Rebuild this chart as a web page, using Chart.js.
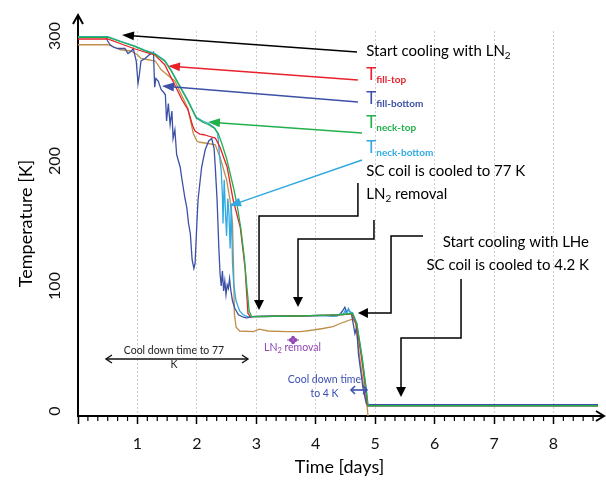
<!DOCTYPE html>
<html>
<head>
<meta charset="utf-8">
<script src="https://cdn.jsdelivr.net/npm/chart.js@4.4.1/dist/chart.umd.min.js"></script>
<style>
  html, body { margin: 0; padding: 0; background: #fff; }
</style>
</head>
<body>
<canvas id="cooldown" width="606" height="483"></canvas>
<script>
// cooldown curves: temperature [K] vs time [days]

var xTicks = [0, 1, 2, 3, 4, 5, 6, 7, 8];
var yTicks = [0, 100, 200, 300];

// [day, K]
var neckTop = [[0,299],[0.5,299],[0.73,295.2],[0.95,291.7],[1.12,288.3],[1.29,285.6],[1.46,279.8],[1.57,271.8],
  [1.68,262.4],[1.85,247.8],[1.99,234.4],[2.1,231],[2.2,229],[2.3,226],[2.36,222],[2.42,214],[2.5,202],[2.56,190],
  [2.62,178],[2.68,164],[2.74,146],[2.8,122],[2.84,100],[2.88,80],[2.92,75.5],[3.3,75.8],[3.7,76],[4.1,76.5],
  [4.4,77],[4.55,77.8],[4.62,78],[4.69,70],[4.78,43],[4.85,17],[4.88,4.2],[8.75,4.2]];

var fillTop = [[0,297.6],[0.5,297.6],[0.73,293.6],[0.95,289.8],[1.12,287.2],[1.29,285],[1.46,277],[1.57,266.4],
  [1.68,255.8],[1.75,249],[1.85,241],[1.93,228],[1.97,224],[2.0,223],[2.05,221.5],[2.12,221],[2.19,220],[2.31,218.4],
  [2.39,211],[2.51,195],[2.61,169],[2.73,147],[2.81,115],[2.86,78],[2.9,75.5],[3.3,75.8],[3.7,76],[4.1,76.5],
  [4.4,77],[4.55,77.5],[4.61,77.5],[4.68,70],[4.77,43],[4.84,17],[4.87,4.2],[8.75,4.2]];

var neckBottom = [[0,299.5],[0.5,299.5],[0.73,295.6],[0.95,292.2],[1.12,288.8],[1.29,286.2],[1.46,280.5],[1.57,272.5],
  [1.68,263],[1.85,248.5],[1.99,235],[2.1,232],[2.2,230],[2.3,226.5],[2.35,222],[2.38,205],[2.41,192],[2.43,172],
  [2.44,150],[2.46,185],[2.48,160],[2.5,140],[2.52,170],[2.54,158],[2.56,130],[2.58,166],[2.6,118],[2.62,102],
  [2.66,88],[2.72,80],[2.78,77],[2.85,75.5],[3.3,75.8],[3.7,76],[4.1,76.5],[4.36,76],[4.42,78],[4.46,77],[4.49,80],
  [4.52,78],[4.55,82],[4.58,79],[4.62,78.5],[4.69,70],[4.78,43],[4.85,17],[4.88,4.2],[8.75,4.2]];

var fillBottom = [[0,299],[0.47,299],[0.5,296],[0.54,293],[0.6,291],[0.67,290],[0.79,290],[0.84,286],[0.9,288],
  [0.93,290],[0.98,280],[1.01,262],[1.03,268],[1.06,280],[1.13,282],[1.2,285],[1.27,287],[1.29,259],[1.31,266],
  [1.35,264],[1.4,257],[1.44,255],[1.47,253],[1.49,232],[1.52,246],[1.55,229],[1.58,240],[1.6,218],[1.63,225],
  [1.66,205],[1.72,195],[1.75,185],[1.77,179],[1.8,170],[1.83,163],[1.86,150],[1.89,142],[1.92,121],[1.95,114],
  [1.97,118],[2.0,150],[2.02,169],[2.08,195],[2.14,209],[2.2,216],[2.25,218],[2.29,210],[2.31,195],[2.34,169],
  [2.37,130],[2.39,110],[2.41,100],[2.43,112],[2.45,96],[2.47,104],[2.49,93],[2.51,101],[2.53,98],[2.55,106],
  [2.57,97],[2.6,88],[2.64,82],[2.7,77],[2.78,75],[2.84,74.5],[2.95,75.5],[3.3,75.8],[3.7,76],[4.1,76.5],[4.3,76],
  [4.4,77],[4.45,80],[4.49,83],[4.52,79],[4.55,81],[4.6,78],[4.63,70],[4.66,62],[4.69,67],[4.72,45],[4.8,17],
  [4.85,6],[4.87,5],[8.75,5]];

// brown trace, not named in the figure
var brownTrace = [[0,293],[0.5,293],[0.56,292],[0.72,289],[0.89,288],[1.0,285],[1.06,282],[1.18,281],[1.3,280],
  [1.4,273],[1.5,269],[1.63,264],[1.75,252],[1.85,242],[1.94,222],[2.0,216],[2.05,215],[2.19,214],[2.31,213],
  [2.39,203],[2.5,185],[2.56,168],[2.6,150],[2.62,110],[2.63,78],[2.66,67],[2.72,64],[2.95,63.5],[3.05,65.5],
  [3.2,64],[3.5,63.5],[3.75,63.5],[3.96,64.8],[4.12,66],[4.29,67.5],[4.41,70],[4.5,71.5],[4.58,73],[4.63,73.5],
  [4.67,70],[4.72,50],[4.8,22],[4.86,6],[4.88,-4]];

var FONT = 'Lato, "Open Sans", sans-serif';
Chart.defaults.font.family = FONT;

// first dataset ends up on top
var series = [
  { label: 'T neck-top', pts: neckTop, color: '#22b04b' },
  { label: 'T fill-top', pts: fillTop, color: '#e8212b' },
  { label: 'T neck-bottom', pts: neckBottom, color: '#31a9e1' },
  { label: 'T fill-bottom', pts: fillBottom, color: '#3b50a6' },
  { label: 'T other', pts: brownTrace, color: '#bf8f4a' }
];

var datasets = series.map(function (s) {
  return {
    label: s.label,
    data: s.pts.map(function (p) { return { x: p[0], y: p[1] }; }),
    borderColor: s.color,
    borderWidth: 1.3,
    pointRadius: 0,
    tension: 0,
    fill: false
  };
});

// everything drawn on top: axis arrows, y labels, minor ticks, annotations
var annotations = {
  id: 'annotations',
  afterDraw: function (chart) {
    var ctx = chart.ctx, xs = chart.scales.x, ys = chart.scales.y, area = chart.chartArea;
    function X(d) { return xs.getPixelForValue(d); }
    function Y(k) { return ys.getPixelForValue(k); }

    function head(x1, y1, x2, y2, len, half, color) {
      var a = Math.atan2(y2 - y1, x2 - x1), c = Math.cos(a), s = Math.sin(a);
      ctx.beginPath();
      ctx.moveTo(x2, y2);
      ctx.lineTo(x2 - len * c + half * s, y2 - len * s - half * c);
      ctx.lineTo(x2 - len * c - half * s, y2 - len * s + half * c);
      ctx.closePath();
      ctx.fillStyle = color;
      ctx.fill();
    }
    function arrow(pts, color, len, half) {
      var p = pts.map(function (q) { return [X(q[0]), Y(q[1])]; });
      var n = p.length, a = p[n - 2], b = p[n - 1];
      var L = Math.hypot(b[0] - a[0], b[1] - a[1]);
      var ex = b[0] - (b[0] - a[0]) / L * len * 0.8, ey = b[1] - (b[1] - a[1]) / L * len * 0.8;
      ctx.strokeStyle = color; ctx.lineWidth = 1.5;
      ctx.beginPath();
      ctx.moveTo(p[0][0], p[0][1]);
      for (var i = 1; i < n - 1; i++) ctx.lineTo(p[i][0], p[i][1]);
      ctx.lineTo(ex, ey);
      ctx.stroke();
      head(a[0], a[1], b[0], b[1], len, half, color);
    }
    function chevron(x, y, dir, w, h) {
      ctx.beginPath();
      ctx.moveTo(x - dir * w, y - h); ctx.lineTo(x, y); ctx.lineTo(x - dir * w, y + h);
      ctx.stroke();
    }
    function dbl(d1, d2, k, color, lw, w, h) {
      var x1 = X(d1), x2 = X(d2), y = Y(k);
      ctx.strokeStyle = color; ctx.lineWidth = lw;
      ctx.beginPath(); ctx.moveTo(x1, y); ctx.lineTo(x2, y); ctx.stroke();
      chevron(x1, y, -1, w, h); chevron(x2, y, 1, w, h);
    }
    function text(str, d, k, size, color, align, weight) {
      ctx.font = (weight || '') + ' ' + size + 'px ' + FONT;
      ctx.fillStyle = color; ctx.textAlign = align || 'left'; ctx.textBaseline = 'alphabetic';
      ctx.fillText(str, X(d), Y(k));
    }
    // main text followed by a lowered small part (subscripts)
    function sub(main, small, d, k, size, subSize, color, weight) {
      var x = X(d), y = Y(k);
      ctx.textAlign = 'left'; ctx.textBaseline = 'alphabetic'; ctx.fillStyle = color;
      ctx.font = size + 'px ' + FONT;
      ctx.fillText(main, x, y);
      var w = ctx.measureText(main).width;
      ctx.font = (weight || '') + ' ' + subSize + 'px ' + FONT;
      ctx.fillText(small, x + w, y + size * 0.2);
      return x + w + ctx.measureText(small).width;
    }

    ctx.save();

    // axis arrows
    ctx.strokeStyle = '#000'; ctx.lineWidth = 2;
    ctx.beginPath(); ctx.moveTo(area.left, area.top + 1); ctx.lineTo(area.left, 15); ctx.stroke();
    ctx.beginPath(); ctx.moveTo(area.left - 5, 24); ctx.lineTo(area.left, 15); ctx.lineTo(area.left + 5, 24); ctx.stroke();
    ctx.beginPath(); ctx.moveTo(area.right - 1, area.bottom); ctx.lineTo(604, area.bottom); ctx.stroke();
    ctx.beginPath(); ctx.moveTo(596, area.bottom - 5); ctx.lineTo(604, area.bottom); ctx.lineTo(596, area.bottom + 5); ctx.stroke();

    // minor x ticks, every 4 hours
    ctx.lineWidth = 1.2;
    for (var m = 1; m / 6 <= xs.max; m++) {
      if (m % 6 === 0) continue;
      var mx = X(m / 6);
      ctx.beginPath(); ctx.moveTo(mx, area.bottom + 1); ctx.lineTo(mx, area.bottom + 5); ctx.stroke();
    }

    // rotated y tick labels
    ctx.fillStyle = '#111'; ctx.font = '16px ' + FONT; ctx.textAlign = 'center'; ctx.textBaseline = 'middle';
    yTicks.forEach(function (v) {
      ctx.save();
      ctx.translate(55, Y(v));
      ctx.rotate(-Math.PI / 2);
      ctx.fillText(String(v), 0, 0);
      ctx.restore();
    });

    // leader arrows to the curves
    arrow([[4.695, 287.2], [0.74, 300.8]], '#000', 12, 4.5);
    arrow([[4.71, 264.8], [1.514, 276]], '#e8212b', 12, 4.5);
    arrow([[4.71, 247.2], [1.413, 260]], '#3b50a6', 12, 4.5);
    arrow([[4.779, 222.4], [2.187, 231.2]], '#22b04b', 12, 4.5);
    arrow([[4.779, 200.8], [2.541, 164]], '#31a9e1', 12, 4.5);

    arrow([[4.71, 182.4], [4.71, 156], [3.046, 156], [3.046, 80.8]], '#000', 10, 5);
    arrow([[4.98, 152.8], [4.98, 137.6], [3.702, 137.6], [3.702, 83.2]], '#000', 10, 5);
    arrow([[5.805, 140], [5.267, 140], [5.267, 78.4], [4.71, 78.4]], '#000', 10, 5);
    arrow([[6.445, 105.6], [6.445, 58.4], [5.435, 58.4], [5.435, 11.2]], '#000', 10, 5);

    // labels right of the plot
    sub('Start cooling with LN', '2', 4.85, 284, 15, 10, '#000');
    sub('T', 'fill-top', 4.85, 264.8, 17, 10, '#e8212b', 'bold');
    sub('T', 'fill-bottom', 4.85, 245.6, 17, 10, '#3b50a6', 'bold');
    sub('T', 'neck-top', 4.85, 226.4, 17, 10, '#22b04b', 'bold');
    sub('T', 'neck-bottom', 4.85, 206.4, 17, 10, '#31a9e1', 'bold');
    text('SC coil is cooled to 77 K', 4.85, 188, 15, '#000');
    var e = sub('LN', '2', 4.85, 169.4, 15, 10, '#000');
    ctx.font = '15px ' + FONT; ctx.fillText(' removal', e, Y(169.4));

    text('Start cooling with LHe', 8.598, 131, 15, '#000', 'right');
    text('SC coil is cooled to 4.2 K', 8.598, 112.8, 15, '#000', 'right');

    // cool-down spans
    text('Cool down time to 77', 1.615, 45.3, 10.5, '#222', 'center');
    text('K', 1.615, 34.1, 10.5, '#222', 'center');
    dbl(0.471, 2.86, 41.6, '#111', 1.4, 6, 4);

    text('Cool down time', 4.147, 22.1, 10.5, '#3b50b0', 'center');
    text('to 4 K', 4.147, 10.9, 10.5, '#3b50b0', 'center');
    dbl(4.594, 4.863, 16.8, '#3b50b0', 1.6, 4, 4);

    // LN2 removal marker
    var purple = '#9146b4';
    var cx = X(3.618), cy = Y(56.8);
    ctx.fillStyle = purple;
    [[-2.3, 0], [2.3, 0], [0, -2.3], [0, 2.3]].forEach(function (o) {
      ctx.beginPath(); ctx.arc(cx + o[0], cy + o[1], 1.9, 0, Math.PI * 2); ctx.fill();
    });
    ctx.strokeStyle = purple; ctx.lineWidth = 1;
    ctx.beginPath(); ctx.moveTo(cx - 6, cy); ctx.lineTo(cx + 6, cy); ctx.stroke();
    var e2 = sub('LN', '2', 3.13, 48.2, 10.5, 7.5, purple);
    ctx.font = '10.5px ' + FONT; ctx.fillText(' removal', e2, Y(48.2));

    ctx.restore();
  }
};

new Chart(document.getElementById('cooldown').getContext('2d'), {
  type: 'line',
  data: { datasets: datasets },
  options: {
    responsive: false,
    animation: false,
    layout: { padding: { top: 31, right: 5, bottom: 0, left: 0 } },
    plugins: { legend: { display: false }, tooltip: { enabled: false } },
    scales: {
      x: {
        type: 'linear',
        min: 0,
        max: 8.8,
        afterBuildTicks: function (s) { s.ticks = xTicks.map(function (v) { return { value: v }; }); },
        afterFit: function (s) { s.height = 67; },
        ticks: {
          autoSkip: false,
          maxRotation: 0,
          padding: 10,
          color: '#111',
          font: { size: 16 },
          callback: function (v) { return v === 0 ? '' : String(v); }
        },
        grid: {
          color: function (c) { return c.tick && c.tick.value === 0 ? 'rgba(0,0,0,0)' : '#cfcfcf'; },
          lineWidth: 1,
          tickColor: '#000',
          tickWidth: 1.5,
          tickLength: 8
        },
        border: { display: true, color: '#000', width: 2, dash: [2, 2] },
        title: { display: true, text: 'Time [days]', color: '#000', font: { size: 18 }, padding: { top: 0, bottom: 5 } }
      },
      y: {
        type: 'linear',
        min: -4,
        max: 304,
        afterBuildTicks: function (s) { s.ticks = yTicks.map(function (v) { return { value: v }; }); },
        afterFit: function (s) { s.width = 78; },
        ticks: { display: false },
        grid: { display: false },
        border: { display: true, color: '#000', width: 2 },
        title: { display: true, text: 'Temperature [K]', color: '#000', font: { size: 18 }, padding: { top: 15, bottom: 0 } }
      }
    }
  },
  plugins: [annotations]
});
</script>
</body>
</html>
